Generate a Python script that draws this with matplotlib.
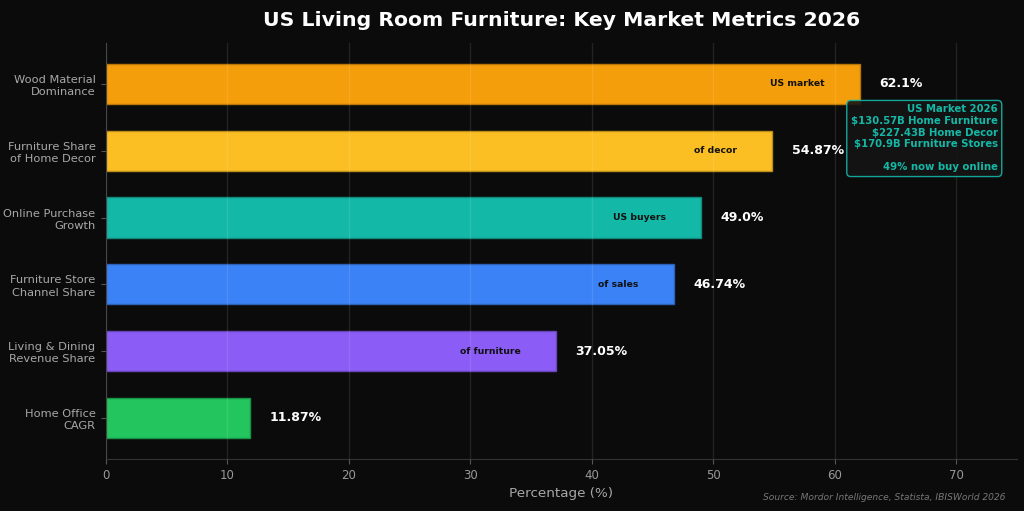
import matplotlib.pyplot as plt

categories = ['Wood Material\nDominance', 'Furniture Share\nof Home Decor', 'Online Purchase\nGrowth',
              'Furniture Store\nChannel Share', 'Living & Dining\nRevenue Share', 'Home Office\nCAGR']
values = [62.1, 54.87, 49.0, 46.74, 37.05, 11.87]
value_labels = ['62.1%', '54.87%', '49.0%', '46.74%', '37.05%', '11.87%']
inner_labels = ['US market', 'of decor', 'US buyers', 'of sales', 'of furniture', '']
colors = ['#F59E0B', '#FBBF24', '#14B8A6', '#3B82F6', '#8B5CF6', '#22C55E']
edges = ['#b87708', '#bc8f1b', '#0f8a7c', '#2c61b8', '#6845b8', '#199446']
box_text = ('US Market 2026\n$130.57B Home Furniture\n$227.43B Home Decor\n'
            '$170.9B Furniture Stores\n\n49% now buy online')

bg = '#0b0b0b'
fig, ax = plt.subplots(figsize=(10.24, 5.11), dpi=100)
fig.patch.set_facecolor(bg)
ax.set_facecolor(bg)

y = list(range(len(categories)))
ax.barh(y, values, height=0.6, color=colors, edgecolor=edges, linewidth=1, zorder=2)
ax.set_ylim(5.614, -0.614)

for yi, v, lab, inner in zip(y, values, value_labels, inner_labels):
    ax.text(v + 1.6, yi, lab, va='center', ha='left', color='white',
            fontsize=9, fontweight='bold', zorder=4)
    if inner:
        ax.text(v - 2.9, yi, inner, va='center', ha='right', color='#111111',
                fontsize=6.7, fontweight='bold', zorder=4)

ax.set_xlim(0, 75)
ax.set_yticks(y)
ax.set_yticklabels(categories, fontsize=8.2, color='#a8a8a8', linespacing=1.3)
ax.tick_params(axis='x', colors='#555555', labelsize=8.5)
ax.tick_params(axis='y', colors='#555555', pad=4)
for lbl in ax.get_yticklabels():
    lbl.set_color('#a8a8a8')
for lbl in ax.get_xticklabels():
    lbl.set_color('#999999')

ax.grid(axis='x', color='#ffffff', alpha=0.1, linewidth=1, zorder=3)
ax.set_axisbelow(False)
for side in ['top', 'right']:
    ax.spines[side].set_visible(False)
for side in ['left', 'bottom']:
    ax.spines[side].set_color('#333333')

ax.set_xlabel('Percentage (%)', fontsize=9.7, color='#a8a8a8', labelpad=4)
ax.set_title('US Living Room Furniture: Key Market Metrics 2026', fontsize=14.7,
             fontweight='bold', color='white', pad=12)

ax.text(0.979, 0.852, box_text, transform=ax.transAxes, ha='right', va='top',
        fontsize=7.3, fontweight='bold', color='#14B8A6', linespacing=1.2, zorder=5,
        bbox=dict(boxstyle='round,pad=0.4', facecolor='#151515',
                  edgecolor='#14B8A6', linewidth=1, alpha=0.9))

fig.text(0.982, 0.018, 'Source: Mordor Intelligence, Statista, IBISWorld 2026',
         ha='right', va='bottom', fontsize=6.6, style='italic', color='#777777')

fig.subplots_adjust(left=0.1035, right=0.993, top=0.916, bottom=0.102)
fig.savefig('out.png', dpi=100, facecolor=bg)
